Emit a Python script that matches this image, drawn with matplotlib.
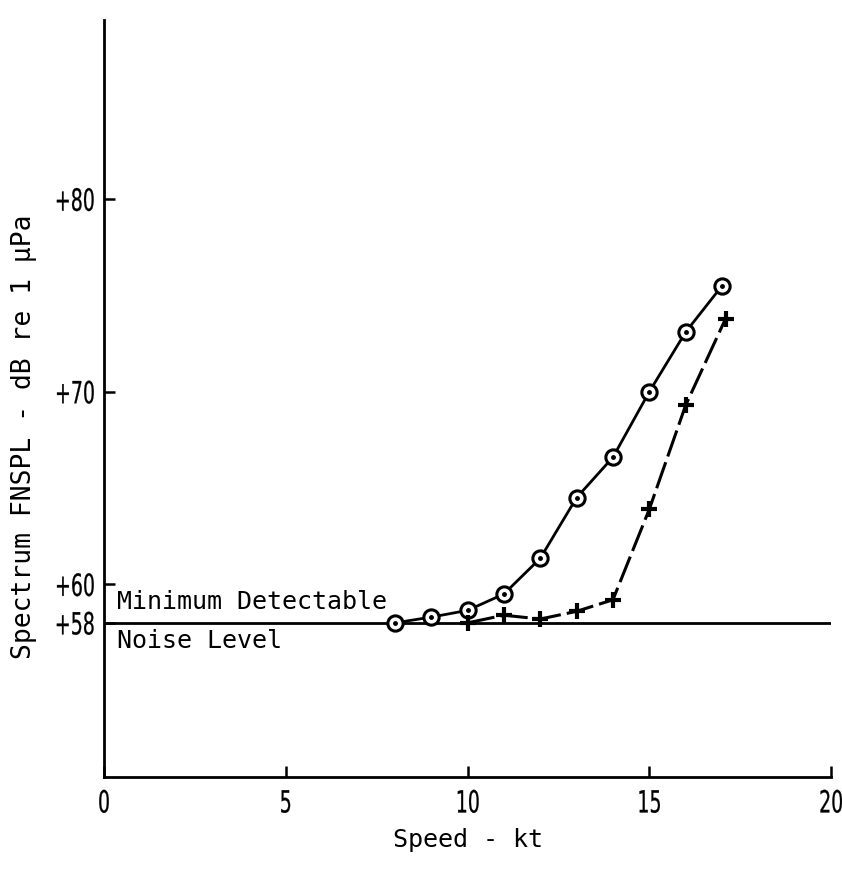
# Ruído irradiado: nível espectral vs velocidade
import matplotlib
matplotlib.use('Agg')
import matplotlib.pyplot as plt
from matplotlib.font_manager import FontProperties
from matplotlib.patheffects import AbstractPathEffect
from matplotlib.transforms import Affine2D

# Dados
speed_circle = [8, 9, 10, 11, 12, 13, 14, 15, 16, 17]
level_circle = [58.0, 58.3, 58.65, 59.5, 61.35, 64.5, 66.6, 70.0, 73.1, 75.5]

speed_cross = [10, 11, 12, 13, 14, 15, 16, 17.1]
level_cross = [58.0, 58.4, 58.2, 58.6, 59.2, 63.9, 69.3, 73.8]

noise_level = 58
x_ticks = [0, 5, 10, 15, 20]
y_ticks = [58, 60, 70, 80]
y_tick_labels = ['+58', '+60', '+70', '+80']

mono = 'DejaVu Sans Mono'


# Comprime o texto na horizontal (fonte condensada não disponível)
class Squeeze(AbstractPathEffect):
    def __init__(self, sx, anchor='center', lw=0.2):
        super().__init__()
        self.sx = sx
        self.anchor = anchor
        self.lw = lw

    def draw_path(self, renderer, gc, tpath, affine, rgbFace=None):
        ext = tpath.get_extents(affine)
        cx = ext.x1 if self.anchor == 'right' else (ext.x0 + ext.x1) / 2
        new = affine + Affine2D().translate(-cx, 0).scale(self.sx, 1).translate(cx, 0)
        gc0 = renderer.new_gc()
        gc0.copy_properties(gc)
        gc0.set_linewidth(self.lw)
        gc0.set_foreground('black')
        renderer.draw_path(gc0, tpath, new, rgbFace)
        gc0.restore()


tick_font = FontProperties(family='DejaVu Sans', size=22)

fig = plt.figure(figsize=(8.42, 8.69), dpi=100)
ax = fig.add_axes([0.1235, 0.1059, 0.8635, 0.871])

# Linha de ruído mínimo detectável
ax.axhline(noise_level, color='black', lw=2)

# Série com círculos (linha contínua)
ax.plot(speed_circle, level_circle, color='black', lw=2, marker='o', ms=11,
        mfc='white', mec='black', mew=2.2, zorder=3)
ax.plot(speed_circle, level_circle, ls='none', marker='o', ms=2.5,
        color='black', zorder=4)

# Série com cruzes (linha tracejada)
ax.plot(speed_cross, level_cross, color='black', lw=2.2, ls=(0, (9, 2)),
        marker='+', ms=11, mew=3, zorder=3)

ax.text(0.36, 59.1, 'Minimum Detectable', family=mono, fontsize=18,
        va='center', ha='left')
ax.text(0.36, 57.05, 'Noise Level', family=mono, fontsize=18,
        va='center', ha='left')

ax.set_xlim(0, 20)
ax.set_ylim(50, 89.3)
ax.set_xticks(x_ticks)
ax.set_yticks(y_ticks)
ax.set_yticklabels(y_tick_labels)
for lbl in ax.get_xticklabels():
    lbl.set_fontproperties(tick_font)
    lbl.set_path_effects([Squeeze(0.62)])
for lbl in ax.get_yticklabels():
    lbl.set_fontproperties(tick_font)
    lbl.set_path_effects([Squeeze(0.62, 'right')])

ax.tick_params(direction='in', length=8, width=1.8)
ax.tick_params(axis='y', pad=6)
ax.tick_params(axis='x', pad=9)
ax.spines['top'].set_visible(False)
ax.spines['right'].set_visible(False)
ax.spines['left'].set_linewidth(2)
ax.spines['bottom'].set_linewidth(2)

ax.set_xlabel('Speed - kt', family=mono, fontsize=18, labelpad=7)
ax.set_ylabel('Spectrum FNSPL - dB re 1 µPa', family=mono, fontsize=19)
ax.yaxis.set_label_coords(-0.092, 0.45)

fig.savefig('out.png', dpi=100)
